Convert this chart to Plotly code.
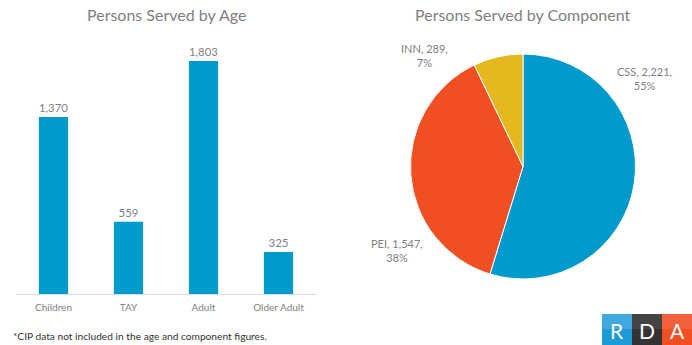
import plotly.graph_objects as go

W, H = 692, 345

age_categories = ["Children", "TAY", "Adult", "Older Adult"]
age_values = [1370, 559, 1803, 325]

component_labels = ["CSS", "PEI", "INN"]
component_values = [2221, 1547, 289]
component_pcts = ["55%", "38%", "7%"]

BLUE = "#009ACD"
ORANGE = "#F04E23"
YELLOW = "#E5B820"
GREY = "#7f7f7f"
FONT = "Lato, 'Open Sans', sans-serif"

def px_x(p):
    return p / W

def px_y(p):
    return 1 - p / H

fig = go.Figure()

fig.add_trace(go.Bar(
    x=age_categories, y=age_values,
    marker=dict(color=BLUE, line=dict(width=0)),
    text=[f"{v:,}" for v in age_values],
    textposition="outside", cliponaxis=False,
    textfont=dict(family=FONT, size=11.5, color=GREY),
    xaxis="x", yaxis="y", showlegend=False, hoverinfo="skip",
))

fig.add_trace(go.Pie(
    labels=component_labels, values=component_values,
    sort=False, direction="clockwise", rotation=0,
    marker=dict(colors=[BLUE, ORANGE, YELLOW], line=dict(color="white", width=1)),
    textinfo="none", showlegend=False, hoverinfo="skip",
    domain=dict(x=[px_x(410.5), px_x(635.5)], y=[px_y(279), px_y(54)]),
))

annotations = [
    dict(text="Persons Served by Age", x=px_x(166), y=px_y(15), xref="paper", yref="paper",
         showarrow=False, font=dict(family=FONT, size=16, color=GREY), xanchor="center", yanchor="middle"),
    dict(text="Persons Served by Component", x=px_x(522), y=px_y(15), xref="paper", yref="paper",
         showarrow=False, font=dict(family=FONT, size=16, color=GREY), xanchor="center", yanchor="middle"),
    dict(text="*CIP data not included in the age and component figures.", x=px_x(11), y=px_y(336),
         xref="paper", yref="paper", showarrow=False, xanchor="left", yanchor="middle",
         font=dict(family=FONT, size=10.2, color="#333333")),
]

label_pos = [(644, 79), (397, 251), (424, 55)]
for lab, val, pct, (lx, ly) in zip(component_labels, component_values, component_pcts, label_pos):
    annotations.append(dict(
        text=f"{lab}, {val:,},<br>{pct}", x=px_x(lx), y=px_y(ly), xref="paper", yref="paper",
        showarrow=False, xanchor="center", yanchor="middle", align="center",
        font=dict(family=FONT, size=11, color=GREY)))

logo_boxes = [("R", 602, "#1E9BD7", "#5BB8E6"), ("D", 632, "#333333", "#555555"), ("A", 662, ORANGE, "#F47454")]
shapes = []
for letter, x0, c, ctop in logo_boxes:
    shapes.append(dict(type="rect", xref="paper", yref="paper", x0=px_x(x0), x1=px_x(x0 + 30),
                       y0=px_y(345), y1=px_y(314), fillcolor=c, line=dict(width=0), layer="above"))
    shapes.append(dict(type="rect", xref="paper", yref="paper", x0=px_x(x0), x1=px_x(x0 + 30),
                       y0=px_y(329), y1=px_y(314), fillcolor=ctop, opacity=0.5, line=dict(width=0), layer="above"))
    annotations.append(dict(text=letter, x=px_x(x0 + 15), y=px_y(330), xref="paper", yref="paper",
                            showarrow=False, xanchor="center", yanchor="middle",
                            font=dict(family=FONT, size=21, color="white")))

fig.update_layout(
    width=W, height=H,
    margin=dict(l=0, r=0, t=0, b=0),
    paper_bgcolor="white", plot_bgcolor="white",
    bargap=0.61,
    xaxis=dict(domain=[px_x(16), px_x(316)], showgrid=False, showline=True, linecolor="#dddddd",
               linewidth=1, ticks="", ticklabelstandoff=4,
               tickfont=dict(family=FONT, size=10, color=GREY), fixedrange=True),
    yaxis=dict(domain=[px_y(294), px_y(35.6)], range=[0, 2000], showgrid=False, zeroline=False,
               showticklabels=False, showline=False, fixedrange=True),
    annotations=annotations,
    shapes=shapes,
)

fig.write_html("out.html", config={"displayModeBar": False},
               post_script="document.body.style.margin='0';document.body.style.overflow='hidden';")
